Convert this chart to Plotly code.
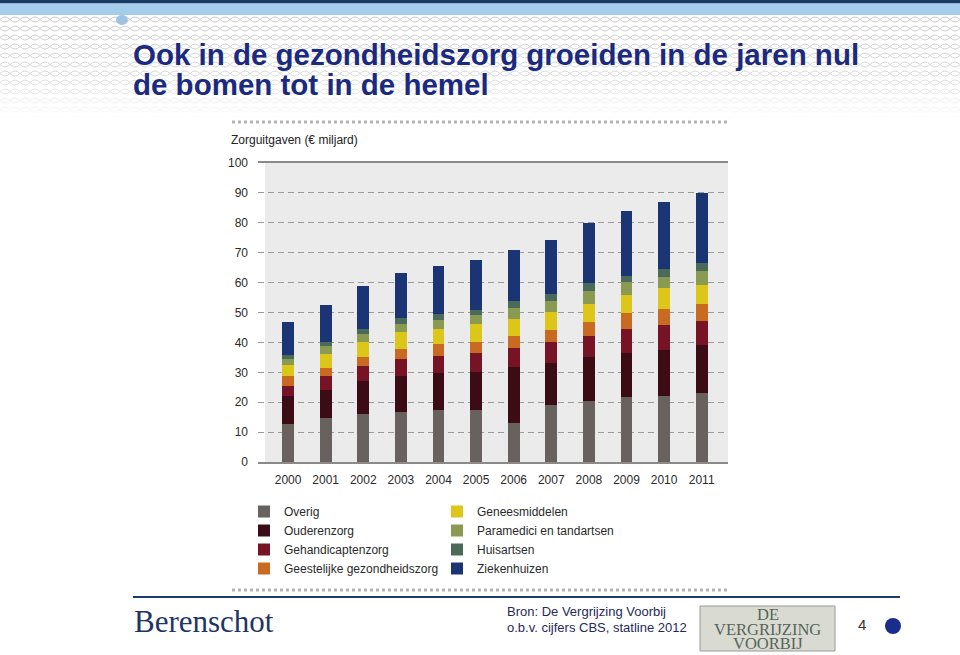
import base64

import plotly.graph_objects as go

# Zorguitgaven (EUR miljard) per sector
years = ["2000", "2001", "2002", "2003", "2004", "2005",
         "2006", "2007", "2008", "2009", "2010", "2011"]
overig = [12.8, 14.8, 16.1, 16.7, 17.3, 17.3, 12.9, 19.2, 20.4, 21.7, 22.1, 23.0]
ouderenzorg = [9.2, 9.4, 10.9, 12.0, 12.5, 12.8, 18.8, 13.8, 14.7, 14.9, 15.5, 16.2]
gehandicaptenzorg = [3.3, 4.5, 5.2, 5.7, 5.5, 6.5, 6.5, 7.0, 7.1, 8.0, 8.2, 8.0]
ggz = [3.4, 2.7, 2.9, 3.5, 4.1, 3.7, 4.0, 4.3, 4.5, 5.1, 5.4, 5.5]
geneesmiddelen = [3.9, 4.7, 4.9, 5.5, 5.2, 6.0, 5.6, 5.8, 6.2, 6.0, 7.1, 6.5]
paramedici = [1.8, 2.6, 2.9, 2.8, 3.0, 2.8, 3.6, 3.9, 4.2, 4.5, 3.7, 4.7]
huisartsen = [1.5, 1.6, 1.7, 2.1, 2.0, 1.9, 2.5, 2.3, 2.8, 2.1, 2.7, 2.5]
ziekenhuizen = [10.8, 12.1, 14.1, 14.8, 15.8, 16.6, 17.0, 18.1, 19.9, 21.5, 22.1, 23.6]

y_ticks = [0, 10, 20, 30, 40, 50, 60, 70, 80, 90, 100]

# (name, values, colour, legend, rank) in stacking order, bottom to top
series = [
    ("Overig", overig, "#67625f", "legend", 1),
    ("Ouderenzorg", ouderenzorg, "#3b0c16", "legend", 2),
    ("Gehandicaptenzorg", gehandicaptenzorg, "#761425", "legend", 3),
    ("Geestelijke gezondheidszorg", ggz, "#c96a22", "legend", 4),
    ("Geneesmiddelen", geneesmiddelen, "#dcc61a", "legend2", 1),
    ("Paramedici en tandartsen", paramedici, "#8b9a52", "legend2", 2),
    ("Huisartsen", huisartsen, "#4c6a59", "legend2", 3),
    ("Ziekenhuizen", ziekenhuizen, "#1b3473", "legend2", 4),
]

W, H = 960, 655
L, R, T, B = 258, 728, 163, 462  # plot area in pixels


def px(x):
    return (x - L) / (R - L)


def py(y):
    return (B - y) / (B - T)


fig = go.Figure()
for name, vals, col, leg, rank in series:
    fig.add_trace(go.Bar(
        x=years, y=vals, name=name, legend=leg, legendrank=rank,
        marker=dict(color=col, line=dict(width=0)), width=0.31,
    ))

# light diamond pattern behind the slide title
pattern_svg = (
    "<svg xmlns='http://www.w3.org/2000/svg' width='960' height='105'>"
    "<defs><pattern id='p' width='10' height='9' patternUnits='userSpaceOnUse'>"
    "<path d='M0 4.5 Q5 -0.5 10 4.5 Q5 9.5 0 4.5Z' fill='none' stroke='#c9c9c9' stroke-width='1'/>"
    "</pattern><linearGradient id='g' x1='0' y1='0' x2='0' y2='1'>"
    "<stop offset='0' stop-color='#fff' stop-opacity='0'/>"
    "<stop offset='0.55' stop-color='#fff' stop-opacity='0.3'/>"
    "<stop offset='1' stop-color='#fff' stop-opacity='1'/></linearGradient></defs>"
    "<rect width='960' height='105' fill='url(#p)'/>"
    "<rect width='960' height='105' fill='url(#g)'/></svg>"
)
pattern_uri = "data:image/svg+xml;base64," + base64.b64encode(pattern_svg.encode()).decode()

navy = "#1b2a7e"
shapes = [
    # chart background panel
    dict(type="rect", xref="paper", yref="paper", x0=px(265), x1=1, y0=0, y1=1,
         fillcolor="#ebebeb", line=dict(width=0), layer="below"),
    # header bands
    dict(type="rect", xref="paper", yref="paper", x0=px(0), x1=px(W), y0=py(0), y1=py(3.5),
         fillcolor="#173a66", line=dict(width=0), layer="below"),
    dict(type="rect", xref="paper", yref="paper", x0=px(0), x1=px(W), y0=py(3.5), y1=py(15),
         fillcolor="#a3cdeb", line=dict(width=0), layer="below"),
    dict(type="circle", xref="paper", yref="paper", x0=px(116), x1=px(128), y0=py(15), y1=py(25),
         fillcolor="#9cc3e2", line=dict(width=0), layer="below"),
    # dotted separators
    dict(type="line", xref="paper", yref="paper", x0=px(232), x1=px(728), y0=py(122), y1=py(122),
         line=dict(color="#b4b4b4", width=3, dash="3px,3px")),
    dict(type="line", xref="paper", yref="paper", x0=px(232), x1=px(728), y0=py(590), y1=py(590),
         line=dict(color="#b4b4b4", width=3, dash="3px,3px")),
    # footer rule
    dict(type="line", xref="paper", yref="paper", x0=px(133), x1=px(900), y0=py(597), y1=py(597),
         line=dict(color="#1d3a6e", width=2)),
    # logo box
    dict(type="rect", xref="paper", yref="paper", x0=px(700), x1=px(835), y0=py(606), y1=py(651),
         fillcolor="#d9dad2", line=dict(color="#9a9a9a", width=1)),
    # page dot
    dict(type="circle", xref="paper", yref="paper", x0=px(885), x1=px(901), y0=py(618), y1=py(634),
         fillcolor="#1b2d8c", line=dict(width=0)),
]

annotations = [
    dict(text="<b>Ook in de gezondheidszorg groeiden in de jaren nul</b>", x=px(132), y=py(37),
         font=dict(size=29.5, color=navy, family="Liberation Sans, Arial")),
    dict(text="<b>de bomen tot in de hemel</b>", x=px(132), y=py(67),
         font=dict(size=29.5, color=navy, family="Liberation Sans, Arial")),
    dict(text="Zorguitgaven (€ miljard)", x=px(230), y=py(132),
         font=dict(size=12, color="#222")),
    dict(text="Berenschot", x=px(133), y=py(603),
         font=dict(size=31, color="#1f3566", family="Liberation Serif, serif")),
    dict(text="Bron: De Vergrijzing Voorbij", x=px(506), y=py(603),
         font=dict(size=13, color="#1f2a5a", family="Liberation Sans, Arial")),
    dict(text="o.b.v. cijfers CBS, statline 2012", x=px(506), y=py(619),
         font=dict(size=13, color="#1f2a5a", family="Liberation Sans, Arial")),
    dict(text="4", x=px(857), y=py(615), font=dict(size=15, color="#333")),
]
for i, word in enumerate(["DE", "VERGRIJZING", "VOORBIJ"]):
    annotations.append(dict(
        text=word, x=px(767.5), y=py(604 + i * 14.5), xanchor="center",
        font=dict(size=16.5, color="#56655a", family="Liberation Serif, serif"),
    ))
for a in annotations:
    a.update(xref="paper", yref="paper", showarrow=False, yanchor="top", borderpad=0)
    a.setdefault("xanchor", "left")

legend_style = dict(
    orientation="v", xanchor="left", yanchor="top", y=py(497),
    bgcolor="rgba(0,0,0,0)", font=dict(size=12, color="#2a2a2a"),
    itemwidth=30, tracegroupgap=0, traceorder="normal",
)

fig.update_layout(
    width=W, height=H,
    margin=dict(l=L, r=W - R, t=T, b=H - B, autoexpand=False),
    paper_bgcolor="white", plot_bgcolor="rgba(0,0,0,0)",
    font=dict(family="Liberation Sans, Arial, sans-serif", size=12, color="#2a2a2a"),
    barmode="stack", bargap=0.69,
    showlegend=True,
    legend=dict(x=px(244), **legend_style),
    legend2=dict(x=px(437), **legend_style),
    shapes=shapes, annotations=annotations,
    images=[dict(source=pattern_uri, xref="paper", yref="paper", x=px(0), y=py(15),
                 sizex=W / (R - L), sizey=105 / (B - T), sizing="stretch",
                 xanchor="left", yanchor="top", layer="below")],
    xaxis=dict(
        type="category", range=[-0.8, 11.7], showgrid=False, zeroline=False,
        showline=True, mirror=True, linecolor="#8a8a8a", linewidth=1.5,
        ticks="", ticklabelstandoff=6, tickfont=dict(size=12, color="#2a2a2a"),
        fixedrange=True,
    ),
    yaxis=dict(
        range=[0, 100], tickvals=y_ticks, showgrid=True, gridcolor="#9a9a9a",
        griddash="6px,4px", gridwidth=1, zeroline=False, showline=False,
        ticks="", ticklabelstandoff=9, tickfont=dict(size=12, color="#2a2a2a"),
        fixedrange=True,
    ),
)

# page body has a default 8px margin; drop it so the figure fills the window
fig.write_html("out.html", config={"displayModeBar": False},
               post_script="document.body.style.margin='0';")
